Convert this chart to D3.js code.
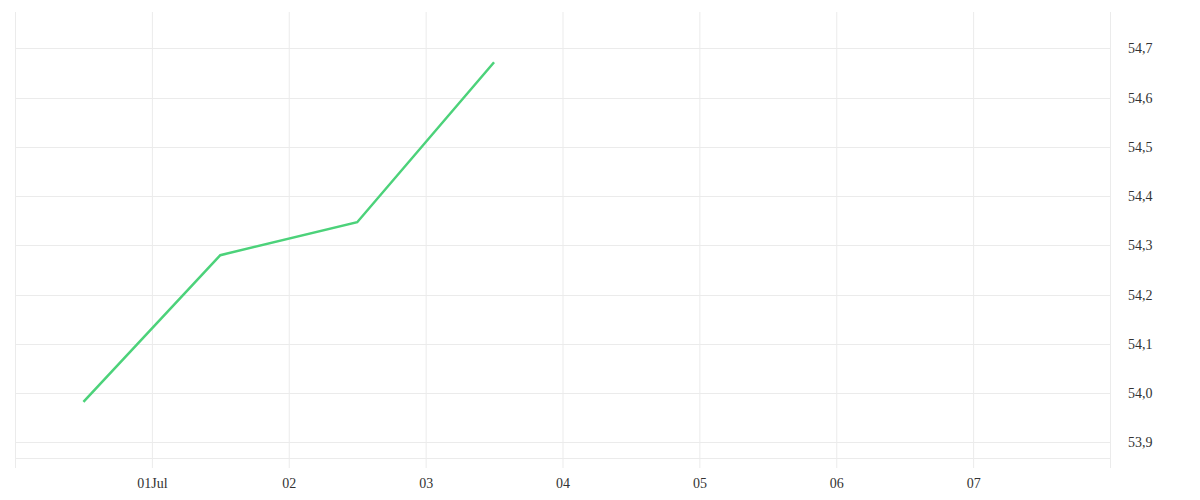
<!DOCTYPE html>
<html>
<head>
<meta charset="utf-8">
<script src="https://cdn.jsdelivr.net/npm/d3@7"></script>
<style>
  body { margin: 0; background: #fff; }
  .axis text { font-family: "Liberation Serif", serif; font-size: 14px; fill: #333; }
</style>
</head>
<body>
<div id="chart"></div>
<script>
// Data: one value per day, sampled at noon
const dates = ['2023-06-30T12:00', '2023-07-01T12:00', '2023-07-02T12:00', '2023-07-03T12:00'];
const values = [53.982, 54.280, 54.347, 54.672];

// Axis settings
const xDomain = ['2023-06-30T00:00', '2023-07-08T00:00'];
const xTickDays = ['2023-06-30', '2023-07-01', '2023-07-02', '2023-07-03', '2023-07-04',
                   '2023-07-05', '2023-07-06', '2023-07-07', '2023-07-08'];
const xTickLabels = ['', '01Jul', '02', '03', '04', '05', '06', '07', ''];
const yDomain = [53.868, 54.774];
const yTicks = [53.9, 54.0, 54.1, 54.2, 54.3, 54.4, 54.5, 54.6, 54.7];

const config = {
  width: 1200,
  height: 500,
  margin: {top: 12, right: 90, bottom: 42, left: 15}
};

const parse = d3.isoParse;
const w = config.width - config.margin.left - config.margin.right;
const h = config.height - config.margin.top - config.margin.bottom;

const locale = d3.formatLocale({decimal: ',', thousands: '.', grouping: [3], currency: ['', '']});
const fmt = locale.format('.1f');

const data = dates.map((d, i) => ({date: parse(d), value: values[i]}));

const xScale = d3.scaleTime()
  .domain(xDomain.map(parse))
  .range([0, w]);

const yScale = d3.scaleLinear()
  .domain(yDomain)
  .range([h, 0]);

const svg = d3.select('#chart').append('svg')
  .attr('width', config.width)
  .attr('height', config.height);

const chart = svg.append('g')
  .attr('transform', `translate(${config.margin.left},${config.margin.top})`);

// vertical day gridlines, extending 10px under the plot
const xAxis = d3.axisBottom(xScale)
  .tickValues(xTickDays.map(d => parse(d + 'T00:00')))
  .tickFormat((d, i) => xTickLabels[i])
  .tickSize(-h - 10)
  .tickPadding(10);

chart.append('g')
  .attr('class', 'axis x-axis')
  .attr('transform', `translate(0,${h + 10})`)
  .call(xAxis)
  .call(g => g.select('.domain').remove())
  .call(g => g.selectAll('.tick line').attr('stroke', '#ebebeb'));

// horizontal gridlines + labels on the right
const yAxis = d3.axisRight(yScale)
  .tickValues(yTicks)
  .tickFormat(fmt)
  .tickSize(0)
  .tickPadding(18);

chart.append('g')
  .attr('class', 'axis y-axis')
  .attr('transform', `translate(${w},0)`)
  .call(yAxis)
  .call(g => g.select('.domain').remove());

chart.append('g')
  .selectAll('line')
  .data(yTicks.concat([yDomain[0]]))
  .join('line')
  .attr('x1', 0)
  .attr('x2', w)
  .attr('y1', d => Math.round(yScale(d)) + 0.5)
  .attr('y2', d => Math.round(yScale(d)) + 0.5)
  .attr('stroke', '#ebebeb');

const line = d3.line()
  .x(d => xScale(d.date))
  .y(d => yScale(d.value));

chart.append('path')
  .datum(data)
  .attr('fill', 'none')
  .attr('stroke', '#4cd27a')
  .attr('stroke-width', 2.5)
  .attr('d', line);
</script>
</body>
</html>
